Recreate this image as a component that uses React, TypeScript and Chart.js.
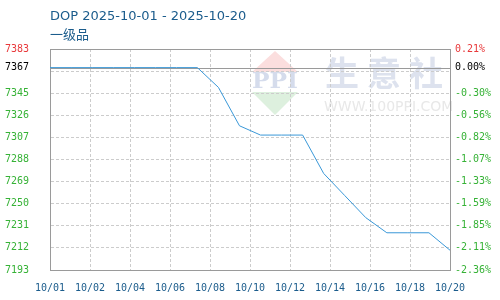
import React, { useEffect, useRef } from 'react';
import { Chart, registerables } from 'chart.js';

Chart.register(...registerables);

const chartTitle = 'DOP 2025-10-01 - 2025-10-20';
const chartSubtitle = '一级品';

const days = [
  '10/01', '10/02', '10/03', '10/04', '10/05', '10/06', '10/07', '10/08', '10/09', '10/10',
  '10/11', '10/12', '10/13', '10/14', '10/15', '10/16', '10/17', '10/18', '10/19', '10/20',
];
const prices = [
  7367, 7367, 7367, 7367, 7367, 7367, 7367, 7367, 7350, 7317,
  7309, 7309, 7309, 7276, 7257, 7238, 7225, 7225, 7225, 7210,
];

const xTickLabels = ['10/01', '10/02', '10/04', '10/06', '10/08', '10/10', '10/12', '10/14', '10/16', '10/18', '10/20'];

const basePrice = 7367;
const baseLeftLabel = '7367';
const baseRightLabel = '0.00%';
const yGridValues = [7193, 7212, 7231, 7250, 7269, 7288, 7307, 7326, 7345, 7364, 7383];
const yLeftLabels = ['7193', '7212', '7231', '7250', '7269', '7288', '7307', '7326', '7345', '', '7383'];
const yRightLabels = ['-2.36%', '-2.11%', '-1.85%', '-1.59%', '-1.33%', '-1.07%', '-0.82%', '-0.56%', '-0.30%', '', '0.21%'];

const yMin = yGridValues[0];
const yMax = yGridValues[yGridValues.length - 1];

const RED = '#e8383a';
const GREEN = '#36b236';
const BLACK = '#000000';
const BLUE_TEXT = '#1b5c8c';
const FRAME = '#9a9a9a';
const GRID = '#cccccc';
const LINE = '#3a98d8';
const MONO = '"DejaVu Sans Mono", monospace';

function leftLabel(v: number): string {
  if (v === basePrice) return baseLeftLabel;
  const i = yGridValues.indexOf(v);
  return i >= 0 ? yLeftLabels[i] : '';
}
function rightLabel(v: number): string {
  if (v === basePrice) return baseRightLabel;
  const i = yGridValues.indexOf(v);
  return i >= 0 ? yRightLabels[i] : '';
}
function labelColor(ctx: any): string {
  const v = ctx.tick ? ctx.tick.value : 0;
  if (v > basePrice) return RED;
  if (v === basePrice) return BLACK;
  return GREEN;
}
function yTicksBuilder(scale: any) {
  const vals = [...yGridValues, basePrice].sort((a, b) => a - b);
  scale.ticks = vals.map((v) => ({ value: v }));
}

const decorPlugin = {
  id: 'decor',
  beforeDraw(chart: any) {
    const { ctx, chartArea: a } = chart;
    if (!a) return;
    const ox = a.left;
    const oy = a.top;
    ctx.save();
    // PPI logo watermark
    const cx = ox + 225;
    ctx.fillStyle = '#fbdede';
    ctx.beginPath();
    ctx.moveTo(cx, oy + 2);
    ctx.lineTo(cx + 23, oy + 23);
    ctx.lineTo(cx - 23, oy + 23);
    ctx.closePath();
    ctx.fill();
    ctx.fillStyle = '#ddf0de';
    ctx.beginPath();
    ctx.moveTo(cx - 23, oy + 43);
    ctx.lineTo(cx + 23, oy + 43);
    ctx.lineTo(cx, oy + 66);
    ctx.closePath();
    ctx.fill();
    ctx.fillStyle = '#d5dcec';
    ctx.font = 'bold 23px "DejaVu Serif"';
    ctx.textAlign = 'center';
    ctx.textBaseline = 'middle';
    const w = ctx.measureText('PPI').width;
    ctx.save();
    ctx.translate(cx, oy + 33);
    ctx.scale(46 / w, 1);
    ctx.fillText('PPI', 0, 0);
    ctx.restore();
    // 生意社
    ctx.fillStyle = '#dde2ee';
    ctx.font = 'bold 34px "Noto Sans CJK SC"';
    const chars = ['生', '意', '社'];
    chars.forEach((c, i) => ctx.fillText(c, ox + 292 + i * 42, oy + 24));
    ctx.fillStyle = '#e8e8e8';
    ctx.font = '14px "DejaVu Sans"';
    ctx.textAlign = 'left';
    ctx.fillText('WWW.100PPI.COM', ox + 274, oy + 58);
    ctx.restore();
  },
  beforeDatasetsDraw(chart: any) {
    const { ctx, chartArea: a, scales } = chart;
    const y = Math.round(scales.y.getPixelForValue(basePrice)) + 0.5;
    ctx.save();
    ctx.strokeStyle = FRAME;
    ctx.lineWidth = 1;
    ctx.beginPath();
    ctx.moveTo(a.left, y);
    ctx.lineTo(a.right, y);
    ctx.moveTo(a.left, Math.round(a.top) + 0.5);
    ctx.lineTo(a.right, Math.round(a.top) + 0.5);
    ctx.stroke();
    ctx.restore();
  },
  afterDraw(chart: any) {
    const { ctx } = chart;
    ctx.save();
    ctx.fillStyle = BLUE_TEXT;
    ctx.textAlign = 'left';
    ctx.textBaseline = 'alphabetic';
    ctx.font = '13px "DejaVu Sans"';
    ctx.fillText(chartTitle, 50, 20);
    ctx.font = '13px "Noto Sans CJK SC"';
    ctx.fillText(chartSubtitle, 50, 39);
    ctx.restore();
  },
};

export default function App() {
  const ref = useRef<HTMLCanvasElement | null>(null);
  useEffect(() => {
    if (!ref.current) return;
    const n = days.length - 1;
    const chart = new Chart(ref.current, {
      type: 'line',
      data: {
        datasets: [
          {
            data: prices.map((p, i) => ({ x: i, y: p })),
            borderColor: LINE,
            borderWidth: 1,
            pointRadius: 0,
            tension: 0,
            fill: false,
          },
        ],
      },
      options: {
        animation: false,
        responsive: false,
        events: [],
        layout: { padding: { left: 5, right: 0, top: 49, bottom: 0 } },
        plugins: { legend: { display: false }, tooltip: { enabled: false }, title: { display: false } },
        scales: {
          x: {
            type: 'linear',
            min: 0,
            max: n,
            afterBuildTicks: (scale: any) => {
              scale.ticks = xTickLabels.map((_, k) => ({ value: (k * n) / (xTickLabels.length - 1) }));
            },
            afterFit: (scale: any) => {
              scale.height = 30;
            },
            grid: { color: GRID, drawTicks: false },
            border: { display: true, color: FRAME, dash: [3, 2] },
            ticks: {
              autoSkip: false,
              maxRotation: 0,
              padding: 12,
              color: BLUE_TEXT,
              font: { family: MONO, size: 10 },
              callback: (_v: any, i: number) => xTickLabels[i],
            },
          },
          y: {
            type: 'linear',
            position: 'left',
            min: yMin,
            max: yMax,
            afterBuildTicks: yTicksBuilder,
            afterFit: (scale: any) => {
              scale.width = 45;
            },
            grid: {
              color: (ctx: any) => (ctx.tick && ctx.tick.value === basePrice ? 'rgba(0,0,0,0)' : GRID),
              drawTicks: false,
            },
            border: { display: true, color: FRAME, dash: [3, 2] },
            ticks: {
              autoSkip: false,
              crossAlign: 'far',
              color: labelColor,
              font: { family: MONO, size: 10 },
              callback: (v: any) => leftLabel(Number(v)),
            },
          },
          y1: {
            type: 'linear',
            position: 'right',
            min: yMin,
            max: yMax,
            afterBuildTicks: yTicksBuilder,
            afterFit: (scale: any) => {
              scale.width = 50;
            },
            grid: { display: false, drawTicks: false },
            border: { display: true, color: FRAME },
            ticks: {
              autoSkip: false,
              crossAlign: 'near',
              padding: 5,
              color: labelColor,
              font: { family: MONO, size: 10 },
              callback: (v: any) => rightLabel(Number(v)),
            },
          },
        },
      },
      plugins: [decorPlugin],
    } as any);
    return () => chart.destroy();
  }, []);
  return (
    <div style={{ position: 'fixed', left: 0, top: 0, width: 500, height: 300, background: '#fff' }}>
      <canvas ref={ref} width={500} height={300} style={{ display: 'block' }} />
    </div>
  );
}
